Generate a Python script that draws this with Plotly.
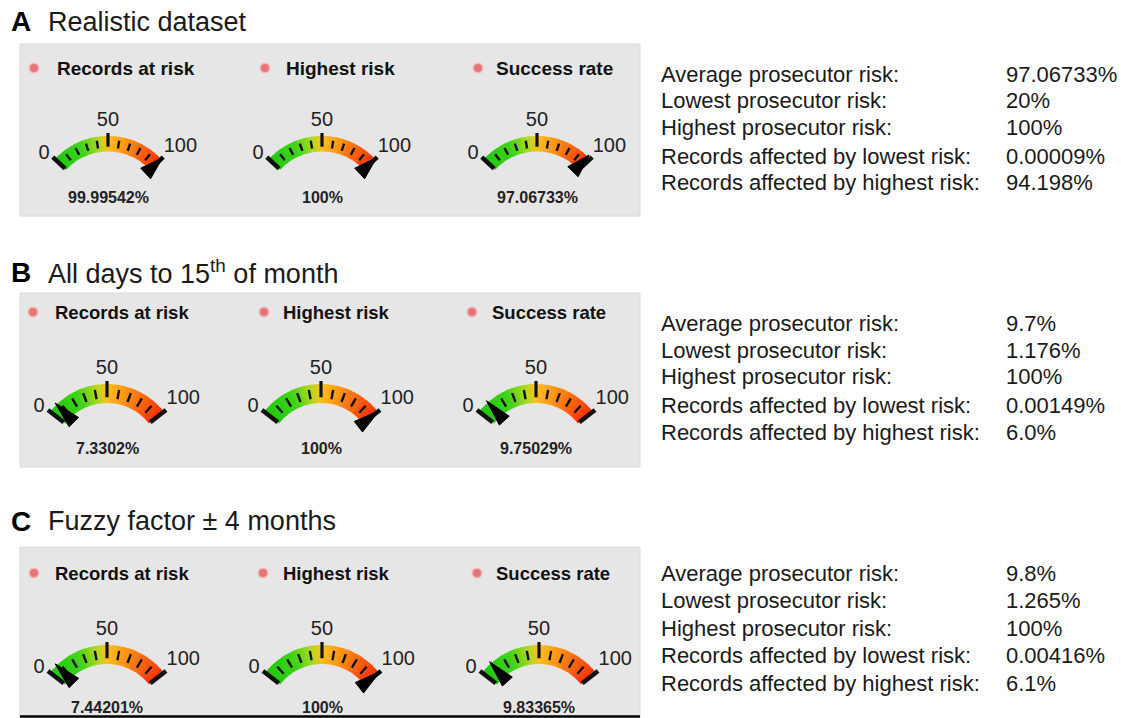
import math
import plotly.graph_objects as go

W, H = 1121, 718

# ---------------- data ----------------
panel_letters = ["A", "B", "C"]
panel_titles = ["Realistic dataset", "All days to 15<sup>th</sup> of month", "Fuzzy factor ± 4 months"]
gauge_names = ["Records at risk", "Highest risk", "Success rate"]
gauge_values_A = [99.99542, 100.0, 97.06733]
gauge_values_B = [7.3302, 100.0, 9.75029]
gauge_values_C = [7.44201, 100.0, 9.83365]
stat_names = ["Average prosecutor risk:", "Lowest prosecutor risk:", "Highest prosecutor risk:",
              "Records affected by lowest risk:", "Records affected by highest risk:"]
stat_values_A = ["97.06733%", "20%", "100%", "0.00009%", "94.198%"]
stat_values_B = ["9.7%", "1.176%", "100%", "0.00149%", "6.0%"]
stat_values_C = ["9.8%", "1.265%", "100%", "0.00416%", "6.1%"]
gauge_tick_values = [0, 50, 100]
gauge_tick_labels = ["0", "50", "100"]
minor_tick_values = [10, 20, 30, 40, 60, 70, 80, 90]

gauge_values = [gauge_values_A, gauge_values_B, gauge_values_C]
stat_values = [stat_values_A, stat_values_B, stat_values_C]

# ---------------- layout constants (pixels) ----------------
FONT = "Liberation Sans, Arial, Helvetica, sans-serif"
NARROW = "Liberation Sans Narrow, Arial Narrow, Liberation Sans, Arial, sans-serif"
TXT = "#1a1a1a"
panels = [
    dict(head_y=22, box=(44, 216), title_y=68, title_x=[55, 284, 494], dot_x=[34, 265, 478],
         cx=[108, 322, 537], top=136, R=72.6, thick=15.5, half=47, pct_y=197,
         stat_y=[75, 101, 128, 156, 183], tsize=19),
    dict(head_y=272, box=(293, 467), title_y=312, title_x=[53, 281, 490], dot_x=[33, 264, 472],
         cx=[107, 321, 536], top=384, R=72, thick=19, half=52, pct_y=448,
         stat_y=[323, 350, 377, 405, 432], tsize=18.5),
    dict(head_y=521, box=(547, 740), title_y=573, title_x=[53, 281, 494], dot_x=[34, 263, 477],
         cx=[107, 322, 539], top=645, R=72, thick=19, half=52, pct_y=707,
         stat_y=[573, 600, 628, 655, 683], tsize=18.5),
]
RMAX = 1.12
PAD = 10
NSEG = 50
gauge_colorscale = [[0.0, "#1ec80c"], [0.25, "#3ad414"], [0.42, "#b2d81c"], [0.5, "#ffbf1a"],
                    [0.65, "#ff9612"], [0.82, "#ff620a"], [1.0, "#ff3000"]]


def fx(x):
    return x / W


def fy(y):
    return 1 - y / H


def fmt(v):
    return f"{v:.5f}".rstrip("0").rstrip(".") + "%"


fig = go.Figure()
annotations = []
shapes = []
layout_polars = {}
dot_x, dot_y = [], []

pidx = 0
for p, panel in enumerate(panels):
    # gray box
    shapes.append(dict(type="rect", xref="paper", yref="paper", layer="below",
                       x0=fx(20), x1=fx(640), y0=fy(min(panel["box"][1], H)), y1=fy(panel["box"][0]),
                       fillcolor="#e6e6e6", line=dict(color="#dadada", width=1)))
    # header
    annotations.append(dict(text="<b>" + panel_letters[p] + "</b>", x=fx(9), y=fy(panel["head_y"]),
                            xanchor="left", yanchor="middle", font=dict(size=28, color="#000", family=FONT)))
    annotations.append(dict(text=panel_titles[p], x=fx(46), y=fy(panel["head_y"]),
                            xanchor="left", yanchor="middle", font=dict(size=27, color=TXT, family=FONT)))
    # stats
    for i, name in enumerate(stat_names):
        annotations.append(dict(text=name, x=fx(659), y=fy(panel["stat_y"][i]), xanchor="left",
                                yanchor="middle", font=dict(size=22, color=TXT, family=FONT)))
        annotations.append(dict(text=stat_values[p][i], x=fx(1004), y=fy(panel["stat_y"][i]),
                                xanchor="left", yanchor="middle", font=dict(size=22, color=TXT, family=FONT)))

    R = panel["R"]
    half = panel["half"]
    k = 2 * half / 100.0
    rin = 1 - panel["thick"] / R
    a0, a1 = 90 - half - PAD, 90 + half + PAD
    sx = math.cos(math.radians(a0))
    Rax = R * RMAX
    cy = panel["top"] + R

    for g in range(3):
        pidx += 1
        pname = "polar" if pidx == 1 else f"polar{pidx}"
        cx = panel["cx"][g]
        v = gauge_values[p][g]

        # titles + dots
        annotations.append(dict(text="<b>" + gauge_names[g] + "</b>", x=fx(panel["title_x"][g]),
                                y=fy(panel["title_y"]), xanchor="left", yanchor="middle",
                                font=dict(size=panel["tsize"], color="#111", family=FONT)))
        dot_x.append(panel["dot_x"][g])
        dot_y.append(panel["title_y"])
        # value label
        annotations.append(dict(text="<b>" + fmt(v) + "</b>", x=fx(cx), y=fy(panel["pct_y"]),
                                xanchor="center", yanchor="middle",
                                font=dict(size=16, color="#222", family=NARROW)))

        # gradient arc
        seg = 100.0 / NSEG
        centers = [(i + 0.5) * seg for i in range(NSEG)]
        fig.add_trace(go.Barpolar(
            r=[1 - rin] * NSEG, base=[rin] * NSEG, theta=[c * k for c in centers],
            width=[seg * k * 1.15] * NSEG,
            marker=dict(color=centers, colorscale=gauge_colorscale, cmin=0, cmax=100, line=dict(width=0)),
            subplot=pname, hoverinfo="skip", showlegend=False))

        def ticks(vals, r0, r1, width):
            rr, tt = [], []
            for t in vals:
                rr += [r0, r1, None]
                tt += [t * k, t * k, None]
            return go.Scatterpolar(r=rr, theta=tt, mode="lines", line=dict(color="#111", width=width),
                                   subplot=pname, hoverinfo="skip", showlegend=False)

        mid = (1 + rin) / 2
        span = 1 - rin
        fig.add_trace(ticks(minor_tick_values, mid - 0.25 * span, mid + 0.25 * span, 2.4))
        fig.add_trace(ticks([gauge_tick_values[1]], rin + 0.3 * span, 1.04, 3.2))
        fig.add_trace(ticks([gauge_tick_values[0], gauge_tick_values[2]], rin + 0.1 * span, 1.04, 4.5))

        # needle
        fig.add_trace(go.Scatterpolar(
            r=[1.03, rin - 0.07, rin - 0.07, 1.03], theta=[v * k, v * k - 8, v * k + 8, v * k],
            mode="lines", fill="toself", fillcolor="#000", line=dict(color="#000", width=1),
            subplot=pname, hoverinfo="skip", showlegend=False))

        # scale labels
        fig.add_trace(go.Scatterpolar(
            r=[1.10, 1.07, 1.05], theta=[t * k for t in gauge_tick_values], mode="text",
            text=gauge_tick_labels, textposition=["middle left", "top center", "top right"],
            textfont=dict(size=20, color="#222", family=FONT), cliponaxis=False,
            subplot=pname, hoverinfo="skip", showlegend=False))

        layout_polars[pname] = dict(
            domain=dict(x=[fx(cx - Rax * sx), fx(cx + Rax * sx)],
                        y=[max(0.0, fy(cy)), fy(cy - Rax)]),
            sector=[a0, a1], bgcolor="rgba(0,0,0,0)", hole=0,
            radialaxis=dict(visible=False, range=[0, RMAX], showgrid=False),
            angularaxis=dict(visible=False, rotation=90 + half, direction="clockwise",
                             thetaunit="degrees", showgrid=False))

# status dots
fig.add_trace(go.Scatter(x=dot_x, y=dot_y, mode="markers",
                         marker=dict(size=9.5, color="#e67676", line=dict(color="#f4b8b8", width=1.5)),
                         xaxis="x", yaxis="y", hoverinfo="skip", showlegend=False))

# bottom black rule of panel C
shapes.append(dict(type="line", xref="paper", yref="paper", x0=fx(20), x1=fx(640), y0=fy(716.5), y1=fy(716.5),
                   line=dict(color="#000", width=2.5)))

for a in annotations:
    a.update(xref="paper", yref="paper", showarrow=False)

fig.update_layout(
    width=W, height=H, margin=dict(l=0, r=0, t=0, b=0), autosize=False,
    paper_bgcolor="white", plot_bgcolor="rgba(0,0,0,0)",
    xaxis=dict(range=[0, W], domain=[0, 1], visible=False, fixedrange=True),
    yaxis=dict(range=[H, 0], domain=[0, 1], visible=False, fixedrange=True),
    annotations=annotations, shapes=shapes, showlegend=False,
    **layout_polars,
)

fig.write_html("out.html")
